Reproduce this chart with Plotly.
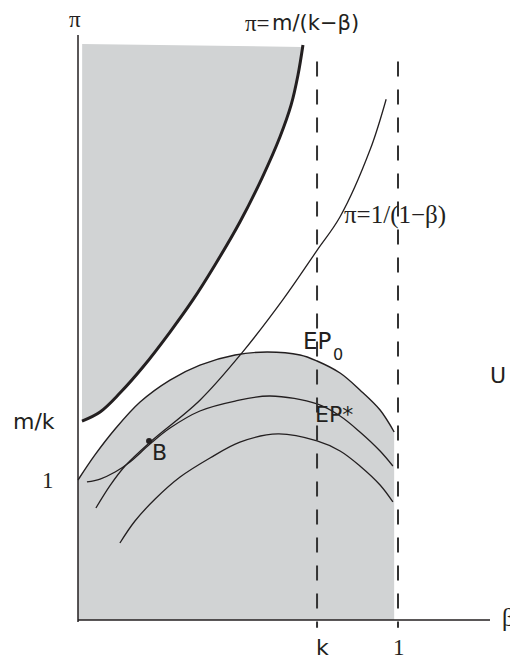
import plotly.graph_objects as go

# ---- data (beta on x, pi on y) ----
ep0_beta = [0.0, 0.053, 0.116, 0.194, 0.2875, 0.381, 0.491, 0.591, 0.694, 0.747, 0.819, 0.881, 0.944, 0.988]
ep0_pi = [1.0, 1.179, 1.364, 1.557, 1.714, 1.821, 1.893, 1.914, 1.893, 1.85, 1.764, 1.643, 1.5, 1.343]

epstar_beta = [0.028, 0.069, 0.116, 0.1625, 0.225, 0.2875, 0.381, 0.491, 0.60, 0.747, 0.819, 0.881, 0.944, 0.984]
epstar_pi = [0.986, 1.007, 1.057, 1.129, 1.257, 1.371, 1.493, 1.564, 1.60, 1.543, 1.457, 1.343, 1.207, 1.10]

ep3_beta = [0.131, 0.178, 0.241, 0.319, 0.4125, 0.506, 0.625, 0.747, 0.819, 0.881, 0.944, 0.984]
ep3_pi = [0.55, 0.707, 0.864, 1.021, 1.157, 1.271, 1.329, 1.279, 1.207, 1.10, 0.964, 0.843]

inv_beta = [0.056, 0.10, 0.147, 0.225, 0.381, 0.513, 0.641, 0.747, 0.819, 0.913, 0.963]
inv_pi = [0.80, 0.96, 1.10, 1.27, 1.57, 1.91, 2.29, 2.64, 2.88, 3.36, 3.72]

mk_beta = [0.0125, 0.069, 0.131, 0.203, 0.2875, 0.359, 0.428, 0.506, 0.575, 0.631, 0.666, 0.6875, 0.703]
mk_pi = [1.421, 1.486, 1.621, 1.807, 2.057, 2.286, 2.536, 2.843, 3.157, 3.45, 3.679, 3.893, 4.107]

top_edge_beta = [0.013, 0.70]
top_edge_pi = [4.114, 4.093]

point_B = (0.222, 1.279)
k_value = 0.747
one_value = 1.0
mk_level = 1.421

INK = "#231f20"
GRAY = "#d1d3d4"
SANS = "DejaVu Sans"
SERIF = "Liberation Serif"

fig = go.Figure()

# top shaded region: between top edge and m/(k-beta)
fig.add_trace(go.Scatter(x=top_edge_beta, y=top_edge_pi, mode="lines",
                         line=dict(width=0, color=GRAY), hoverinfo="skip"))
fig.add_trace(go.Scatter(x=mk_beta, y=mk_pi, mode="lines", fill="tonexty",
                         fillcolor=GRAY, line=dict(color=INK, width=3, shape="spline"),
                         hoverinfo="skip"))

# bottom shaded region under EP0
fig.add_trace(go.Scatter(x=ep0_beta, y=ep0_pi, mode="lines", fill="tozeroy",
                         fillcolor=GRAY, line=dict(color=INK, width=1.4, shape="spline"),
                         hoverinfo="skip"))

for bx, py in [(epstar_beta, epstar_pi), (ep3_beta, ep3_pi), (inv_beta, inv_pi)]:
    fig.add_trace(go.Scatter(x=bx, y=py, mode="lines",
                             line=dict(color=INK, width=1.3, shape="spline"),
                             hoverinfo="skip"))

fig.add_trace(go.Scatter(x=[point_B[0]], y=[point_B[1]], mode="markers",
                         marker=dict(color=INK, size=6), hoverinfo="skip"))

# axes
fig.add_shape(type="line", x0=0, x1=0, y0=-0.015, y1=4.179, line=dict(color=INK, width=1.5))
fig.add_shape(type="line", x0=0, x1=1.2875, y0=0, y1=0, line=dict(color=INK, width=1.5))

# dashed verticals at k and 1
for xv in [k_value, one_value]:
    fig.add_shape(type="line", x0=xv, x1=xv, y0=3.99, y1=-0.055,
                  line=dict(color="#333333", width=2, dash="15px,13px"))

def ann(text, x, y, size, family, xanchor="center", yanchor="middle"):
    fig.add_annotation(x=x, y=y, text=text, showarrow=False, xanchor=xanchor,
                       yanchor=yanchor, borderpad=0,
                       font=dict(size=size, family=family, color=INK))

ann("π", -0.009, 4.29, 23, SERIF)
ann("β", 1.344, 0.021, 25, SERIF)
ann("π=", 0.603, 4.264, 23, SERIF, xanchor="right")
ann("m/(k−β)", 0.603, 4.264, 21, SANS, xanchor="left")
ann("π=1/(1−β)", 0.828, 2.893, 25, SERIF, xanchor="left")
ann("EP", 0.701, 1.993, 23, SANS, xanchor="left")
ann("0", 0.794, 1.90, 16, SANS, xanchor="left")
ann("EP*", 0.738, 1.471, 22, SANS, xanchor="left")
ann("U", 1.3125, 1.743, 22, SANS)
ann("m/k", -0.1375, mk_level, 22, SANS)
ann("1", -0.094, one_value, 23, SERIF)
ann("B", 0.256, 1.2, 22, SANS)
ann("k", 0.7625, -0.193, 22, SANS)
ann("1", 1.003, -0.193, 23, SERIF)

# the page has an 8px body margin; the figure fills the rest of the 518x664 window
fig.update_layout(
    width=510, height=656,
    margin=dict(l=0, r=0, t=0, b=0),
    paper_bgcolor="white", plot_bgcolor="white",
    showlegend=False,
    xaxis=dict(range=[-0.21875, 1.375], visible=False, fixedrange=True),
    yaxis=dict(range=[-0.3143, 4.3714], visible=False, fixedrange=True),
)

fig.write_html("out.html", config={"displayModeBar": False})
